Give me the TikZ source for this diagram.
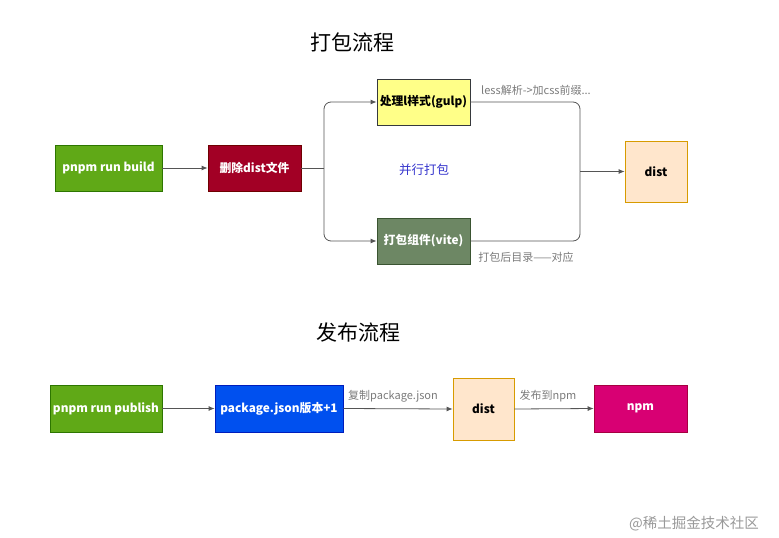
\documentclass[tikz,border=0pt]{standalone}
\usepackage{fontspec}
\setmainfont{Noto Sans CJK SC}
\definecolor{buildgreen}{HTML}{60A917}
\definecolor{buildgreenline}{HTML}{2D7600}
\definecolor{delred}{HTML}{A20025}
\definecolor{delredline}{HTML}{6F0000}
\definecolor{gulpyellow}{HTML}{FFFF88}
\definecolor{gulpyellowline}{HTML}{36393D}
\definecolor{viteolive}{HTML}{6D8764}
\definecolor{viteoliveline}{HTML}{3A5431}
\definecolor{distorange}{HTML}{FFE6CC}
\definecolor{distorangeline}{HTML}{D79B00}
\definecolor{pkgblue}{HTML}{0050EF}
\definecolor{pkgblueline}{HTML}{001DBC}
\definecolor{npmpink}{HTML}{D80073}
\definecolor{npmpinkline}{HTML}{A50040}
\definecolor{notegray}{HTML}{7A7A7A}
\definecolor{parblue}{HTML}{3333CC}
\definecolor{linkgray}{HTML}{555555}
\usetikzlibrary{arrows.meta}

\begin{document}
\begin{tikzpicture}[x=1pt,y=-1pt,
  box/.style={draw,line width=0.8pt,minimum width=93pt,minimum height=46pt,inner sep=0pt,text=white,font=\bfseries\fontsize{11.8}{13}\selectfont},
  note/.style={text=notegray,inner sep=1pt,font=\fontsize{11}{12}\selectfont},
  heading/.style={font=\fontsize{21}{24}\selectfont},
  link/.style={draw=linkgray,line width=0.8pt},
  arr/.style={link,-{Latex[length=6pt,width=5pt]}}]
\useasboundingbox (0,0) rectangle (779,538);
\node [heading] (packtitle) at (352,42) {打包流程};
\node [box,fill=buildgreen,draw=buildgreenline,minimum width=107pt] (build) at (108.5,168) {pnpm run build};
\node [box,fill=delred,draw=delredline] (deldist) at (254.5,168) {删除dist文件};
\node [box,fill=gulpyellow,draw=gulpyellowline,text=black] (gulp) at (423.5,102) {处理l样式(gulp)};
\node [box,fill=viteolive,draw=viteoliveline] (vite) at (423.5,241) {打包组件(vite)};
\node [box,fill=distorange,draw=distorangeline,text=black,minimum width=62pt,minimum height=61pt] (dist) at (656,171.5) {dist};
\coordinate (split) at (324,168);
\coordinate (merge) at (580,171.5);
\draw[arr] (build.east) -- (deldist.west);
\draw[link] (deldist.east) -- (split);
\draw[arr,rounded corners=7pt] (split) |- (gulp.west);
\draw[arr,rounded corners=7pt] (split) |- (vite.west);
\draw[link,rounded corners=7pt] (gulp.east) -| (merge);
\draw[link,rounded corners=7pt] (vite.east) -| (merge);
\draw[arr] (merge) -- (dist.west);
\node [note] (lessnote) at (536,90) {less解析->加css前缀...};
\node [note] (vitenote) at (526,257) {打包后目录——对应};
\node [text=parblue,font=\fontsize{12.5}{14}\selectfont] (parallel) at (424,170) {并行打包};

\node [heading] (pubtitle) at (358,333) {发布流程};
\node [box,fill=buildgreen,draw=buildgreenline,minimum width=112pt,minimum height=47pt] (publish) at (106,408.5) {pnpm run publish};
\node [box,fill=pkgblue,draw=pkgblueline,minimum width=128pt,minimum height=47pt] (pkg) at (279,408.5) {package.json版本+1};
\node [box,fill=distorange,draw=distorangeline,text=black,minimum width=61pt,minimum height=62pt] (distb) at (483.5,409) {dist};
\node [box,fill=npmpink,draw=npmpinkline,minimum height=47pt] (npm) at (640.5,408.5) {npm};
\draw[arr] (publish.east) -- (pkg.west);
\draw[arr] (pkg.east) -- (distb.west);
\draw[arr] (distb.east) -- (npm.west);
\node [note] (copynote) at (393,396) {复制package.json};
\node [note] (pubnote) at (548,396) {发布到npm};

\node [text=black!40,font=\fontsize{14.5}{16}\selectfont] (mark) at (694,524) {@稀土掘金技术社区};
\end{tikzpicture}
\end{document}
